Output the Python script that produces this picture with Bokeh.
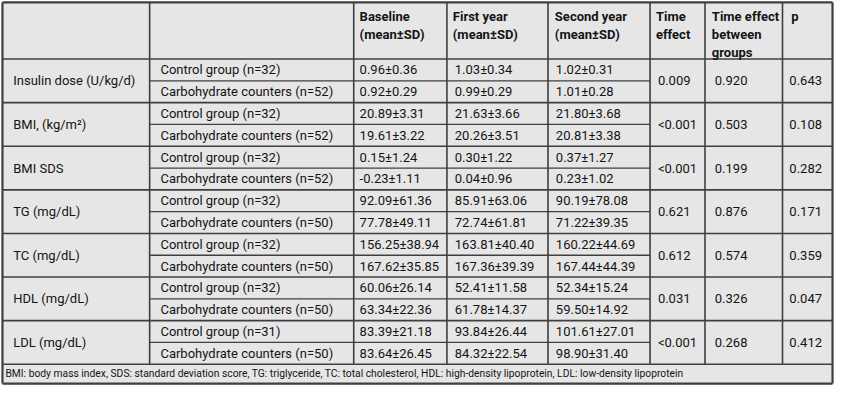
from bokeh.plotting import figure
from bokeh.models import ColumnDataSource, Range1d
from bokeh.core.properties import value
from bokeh.embed import file_html
from bokeh.resources import INLINE

# ---------------- data ----------------
params = ["Insulin dose (U/kg/d)", "BMI, (kg/m²)", "BMI SDS", "TG (mg/dL)",
          "TC (mg/dL)", "HDL (mg/dL)", "LDL (mg/dL)"]
control_n = [32, 32, 32, 32, 32, 32, 31]
carb_n = [52, 52, 52, 50, 50, 50, 50]

baseline_ctrl = [(0.96, 0.36), (20.89, 3.31), (0.15, 1.24), (92.09, 61.36),
                 (156.25, 38.94), (60.06, 26.14), (83.39, 21.18)]
baseline_carb = [(0.92, 0.29), (19.61, 3.22), (-0.23, 1.11), (77.78, 49.11),
                 (167.62, 35.85), (63.34, 22.36), (83.64, 26.45)]
first_ctrl = [(1.03, 0.34), (21.63, 3.66), (0.30, 1.22), (85.91, 63.06),
              (163.81, 40.40), (52.41, 11.58), (93.84, 26.44)]
first_carb = [(0.99, 0.29), (20.26, 3.51), (0.04, 0.96), (72.74, 61.81),
              (167.36, 39.39), (61.78, 14.37), (84.32, 22.54)]
second_ctrl = [(1.02, 0.31), (21.80, 3.68), (0.37, 1.27), (90.19, 78.08),
               (160.22, 44.69), (52.34, 15.24), (101.61, 27.01)]
second_carb = [(1.01, 0.28), (20.81, 3.38), (0.23, 1.02), (71.22, 39.35),
               (167.44, 44.39), (59.50, 14.92), (98.90, 31.40)]
time_effect = ["0.009", "<0.001", "<0.001", "0.621", "0.612", "0.031", "<0.001"]
time_between = ["0.920", "0.503", "0.199", "0.876", "0.574", "0.326", "0.268"]
p_values = ["0.643", "0.108", "0.282", "0.171", "0.359", "0.047", "0.412"]

headers = ["", "", "Baseline\n(mean±SD)", "First year\n(mean±SD)",
           "Second year\n(mean±SD)", "Time\neffect",
           "Time effect\nbetween\ngroups", "p"]
footnote = ("BMI: body mass index, SDS: standard deviation score, TG: triglyceride, "
            "TC: total cholesterol, HDL: high-density lipoprotein, LDL: low-density lipoprotein")

# ---------------- layout ----------------
col_edges = [2, 152, 360, 455, 558, 662, 718, 797, 848]
text_pad = [11, 11, 6, 8, 8, 8, 10, 7]
head_pad = [0, 0, 6, 6, 7, 6, 7, 9]
top, header_bottom, row_h, foot_bottom = 2, 61, 22.7, 399
n_sub = 2 * len(params)
body_bottom = header_bottom + n_sub * row_h

FONT = value("Roboto, 'DejaVu Sans Condensed', sans-serif")
TXT = "#141414"
LINE = "#3f3f3f"
BG = "#e6e6e6"

p = figure(width=834, height=386, x_range=Range1d(0, 850), y_range=Range1d(402, 0),
           output_backend="svg", toolbar_location=None, min_border=0,
           x_axis_type=None, y_axis_type=None)
p.grid.visible = False
p.outline_line_color = None
p.background_fill_color = "white"
p.border_fill_color = "white"

# background
p.quad(left=[col_edges[0]], right=[col_edges[-1]], top=[top], bottom=[foot_bottom],
       fill_color=BG, line_color=None)

# grid lines
x0, y0, x1, y1, lw = [], [], [], [], []
for xe in col_edges[1:-1]:
    x0.append(xe); x1.append(xe); y0.append(top); y1.append(body_bottom); lw.append(1.6)
for k in range(len(params) + 1):
    yy = header_bottom + 2 * k * row_h
    x0.append(col_edges[0]); x1.append(col_edges[-1]); y0.append(yy); y1.append(yy); lw.append(1.6)
for k in range(len(params)):
    yy = header_bottom + (2 * k + 1) * row_h
    x0.append(col_edges[1]); x1.append(col_edges[5]); y0.append(yy); y1.append(yy); lw.append(1.3)
p.segment(x0=x0, y0=y0, x1=x1, y1=y1, line_color=LINE, line_width=lw)
# outer border
p.segment(x0=[col_edges[0], col_edges[-1], col_edges[0], col_edges[0]],
          y0=[top, top, top, foot_bottom],
          x1=[col_edges[0], col_edges[-1], col_edges[-1], col_edges[-1]],
          y1=[foot_bottom, foot_bottom, top, foot_bottom],
          line_color=LINE, line_width=2.2)

# header texts
hx = [col_edges[i] + head_pad[i] for i in range(len(headers))]
p.text(x=hx, y=[9] * len(headers), text=headers, text_font=FONT,
       text_font_style="bold", text_font_size="13px", text_color=TXT,
       text_baseline="top", text_align="left", text_line_height=1.18)

def fmt(v):
    return f"{v[0]:.2f}±{v[1]:.2f}"

xs, ys, ts = [], [], []
for g in range(len(params)):
    yc = header_bottom + (2 * g + 0.5) * row_h
    yk = header_bottom + (2 * g + 1.5) * row_h
    ym = header_bottom + (2 * g + 1.0) * row_h
    # merged cells
    xs += [col_edges[0] + text_pad[0], col_edges[5] + text_pad[5],
           col_edges[6] + text_pad[6], col_edges[7] + text_pad[7]]
    ys += [ym] * 4
    ts += [params[g], time_effect[g], time_between[g], p_values[g]]
    # group rows
    xs += [col_edges[1] + text_pad[1]] * 2
    ys += [yc, yk]
    ts += [f"Control group (n={control_n[g]})", f"Carbohydrate counters (n={carb_n[g]})"]
    for ci, (a, b) in zip([2, 3, 4], [(baseline_ctrl, baseline_carb),
                                      (first_ctrl, first_carb),
                                      (second_ctrl, second_carb)]):
        xs += [col_edges[ci] + text_pad[ci]] * 2
        ys += [yc, yk]
        ts += [fmt(a[g]), fmt(b[g])]

src = ColumnDataSource(dict(x=xs, y=ys, text=ts))
p.text(x="x", y="y", text="text", source=src, text_font=FONT, text_font_size="13px",
       text_color=TXT, text_baseline="middle", text_align="left")

# footnote
p.text(x=[5], y=[(body_bottom + foot_bottom) / 2], text=[footnote], text_font=FONT,
       text_font_size="10.3px", text_color=TXT, text_baseline="middle", text_align="left")

open("out.html", "w").write(file_html(p, INLINE))
